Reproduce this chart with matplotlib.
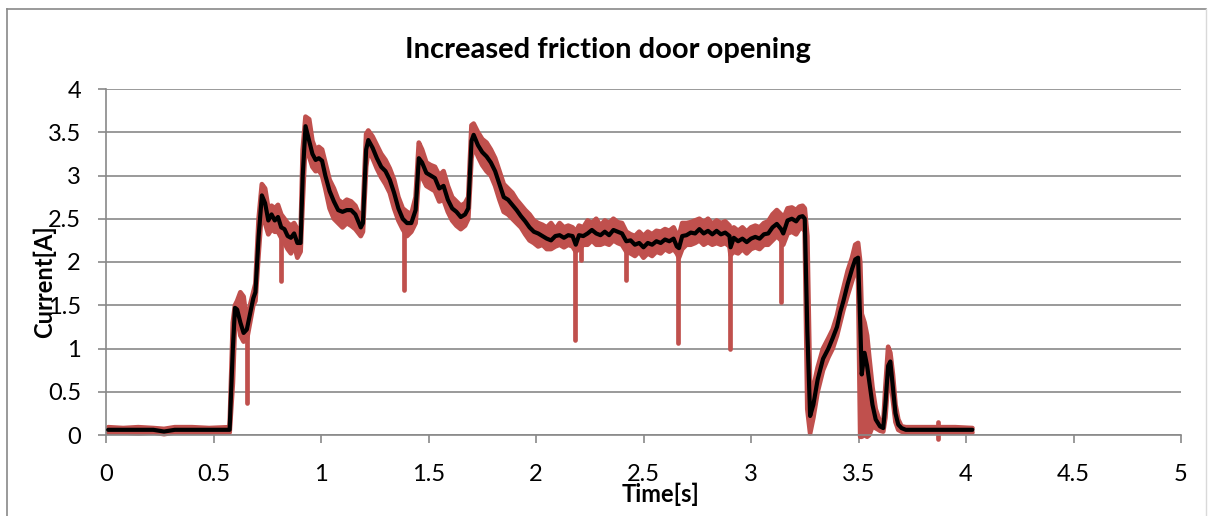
import matplotlib
matplotlib.use("Agg")
import matplotlib.pyplot as plt
from matplotlib.lines import Line2D
import numpy as np

# ---- measured motor current during an opening stroke --------------------
time_s = [
    0.01, 0.08, 0.15, 0.22, 0.27, 0.32, 0.40, 0.48, 0.57,
    0.575, 0.59, 0.60, 0.61, 0.625, 0.64, 0.655, 0.67, 0.685, 0.695,
    0.71, 0.725, 0.74, 0.755, 0.77, 0.785, 0.80, 0.815, 0.83, 0.845,
    0.86, 0.875, 0.89, 0.905, 0.915, 0.928, 0.945, 0.96, 0.975, 0.99,
    1.005, 1.02, 1.04, 1.06, 1.08, 1.10, 1.12, 1.14, 1.16, 1.185,
    1.195, 1.21, 1.22, 1.24, 1.26, 1.28, 1.30, 1.32, 1.34, 1.36,
    1.38, 1.40, 1.42, 1.44, 1.455, 1.47, 1.49, 1.51, 1.53, 1.55,
    1.57, 1.59, 1.61, 1.63, 1.65, 1.67, 1.685, 1.70, 1.71, 1.73,
    1.75, 1.77, 1.79, 1.81, 1.83, 1.85, 1.87, 1.89, 1.91, 1.93,
    1.95, 1.97, 1.99, 2.01, 2.03, 2.05, 2.07, 2.09, 2.11, 2.13,
    2.15, 2.17, 2.185, 2.20, 2.22, 2.24, 2.26, 2.28, 2.30, 2.32,
    2.34, 2.36, 2.38, 2.40, 2.42, 2.44, 2.46, 2.48, 2.50, 2.52,
    2.54, 2.56, 2.58, 2.60, 2.62, 2.64, 2.655, 2.665, 2.68, 2.70,
    2.72, 2.74, 2.76, 2.78, 2.80, 2.82, 2.84, 2.86, 2.88, 2.90,
    2.905, 2.92, 2.94, 2.96, 2.98, 3.00, 3.02, 3.04, 3.06, 3.08,
    3.10, 3.12, 3.14, 3.15, 3.17, 3.19, 3.21, 3.225, 3.24, 3.25,
    3.262, 3.275, 3.29, 3.31, 3.335, 3.36, 3.38, 3.40, 3.415, 3.43,
    3.45, 3.47, 3.485, 3.498, 3.508, 3.515, 3.528, 3.54, 3.55, 3.565,
    3.58, 3.60, 3.615, 3.625, 3.638, 3.648, 3.66, 3.672, 3.685, 3.70,
    3.72, 3.80, 3.87, 3.95, 4.03,
]

# filtered (moving average) current [A]
current_avg = [
    0.06, 0.06, 0.06, 0.06, 0.04, 0.06, 0.06, 0.06, 0.06,
    0.06, 1.00, 1.47, 1.45, 1.30, 1.18, 1.22, 1.40, 1.58, 1.65,
    2.30, 2.77, 2.68, 2.48, 2.55, 2.48, 2.52, 2.40, 2.38, 2.30,
    2.28, 2.33, 2.22, 2.22, 3.00, 3.57, 3.40, 3.25, 3.18, 3.20,
    3.17, 3.00, 2.82, 2.70, 2.60, 2.58, 2.60, 2.60, 2.55, 2.40,
    2.45, 3.30, 3.41, 3.32, 3.20, 3.10, 3.05, 2.95, 2.80, 2.62,
    2.50, 2.45, 2.45, 2.60, 3.20, 3.15, 3.03, 3.00, 2.97, 2.85,
    2.88, 2.72, 2.62, 2.58, 2.52, 2.55, 2.62, 3.40, 3.47, 3.35,
    3.27, 3.22, 3.15, 3.05, 2.90, 2.75, 2.72, 2.66, 2.60, 2.53,
    2.47, 2.40, 2.35, 2.33, 2.30, 2.27, 2.25, 2.30, 2.31, 2.28,
    2.31, 2.30, 2.20, 2.31, 2.30, 2.33, 2.37, 2.33, 2.31, 2.35,
    2.31, 2.37, 2.35, 2.33, 2.24, 2.25, 2.20, 2.22, 2.17, 2.22,
    2.20, 2.24, 2.22, 2.26, 2.24, 2.27, 2.18, 2.16, 2.30, 2.31,
    2.34, 2.33, 2.38, 2.33, 2.36, 2.32, 2.36, 2.32, 2.34, 2.30,
    2.17, 2.28, 2.24, 2.27, 2.23, 2.27, 2.29, 2.27, 2.32, 2.33,
    2.40, 2.44, 2.38, 2.33, 2.48, 2.50, 2.47, 2.52, 2.53, 2.50,
    1.20, 0.22, 0.35, 0.64, 0.88, 1.00, 1.12, 1.25, 1.42, 1.55,
    1.75, 1.92, 2.03, 2.05, 1.30, 0.70, 0.95, 0.80, 0.62, 0.35,
    0.18, 0.10, 0.08, 0.35, 0.80, 0.85, 0.55, 0.25, 0.12, 0.08,
    0.06, 0.06, 0.06, 0.06, 0.06,
]

# raw current, lower edge of the ripple [A]
current_lo = [
    0.03, 0.03, 0.02, 0.03, 0.01, 0.03, 0.03, 0.03, 0.03,
    0.03, 0.60, 1.30, 1.38, 1.15, 1.08, 1.10, 1.30, 1.50, 1.55,
    2.10, 2.62, 2.45, 2.32, 2.38, 2.35, 2.35, 2.28, 2.22, 2.15,
    2.10, 2.20, 2.05, 2.12, 2.70, 3.40, 3.22, 3.10, 3.05, 3.06,
    3.00, 2.85, 2.62, 2.50, 2.45, 2.40, 2.45, 2.42, 2.38, 2.30,
    2.35, 3.10, 3.30, 3.20, 3.08, 2.98, 2.90, 2.80, 2.62, 2.48,
    2.38, 2.30, 2.35, 2.45, 3.00, 2.98, 2.88, 2.85, 2.82, 2.70,
    2.72, 2.58, 2.48, 2.42, 2.38, 2.42, 2.50, 3.20, 3.35, 3.22,
    3.12, 3.05, 3.00, 2.88, 2.72, 2.58, 2.55, 2.50, 2.45, 2.40,
    2.32, 2.25, 2.22, 2.18, 2.20, 2.15, 2.15, 2.18, 2.20, 2.17,
    2.20, 2.18, 2.12, 2.15, 2.20, 2.20, 2.25, 2.20, 2.20, 2.22,
    2.20, 2.25, 2.22, 2.20, 2.12, 2.10, 2.07, 2.12, 2.05, 2.10,
    2.07, 2.12, 2.10, 2.15, 2.12, 2.15, 2.10, 2.05, 2.15, 2.20,
    2.20, 2.22, 2.25, 2.20, 2.23, 2.20, 2.22, 2.20, 2.22, 2.18,
    2.08, 2.12, 2.10, 2.15, 2.10, 2.15, 2.17, 2.15, 2.20, 2.20,
    2.25, 2.30, 2.25, 2.20, 2.33, 2.35, 2.32, 2.38, 2.40, 2.35,
    0.30, 0.02, 0.20, 0.50, 0.75, 0.90, 1.00, 1.15, 1.30, 1.45,
    1.62, 1.78, 1.90, 1.85, -0.02, -0.02, 0.00, -0.02, 0.00, 0.10,
    0.08, 0.05, 0.04, 0.20, 0.65, 0.70, 0.40, 0.15, 0.06, 0.04,
    0.03, 0.03, 0.03, 0.03, 0.03,
]

# raw current, upper edge of the ripple [A]
current_hi = [
    0.09, 0.08, 0.09, 0.08, 0.07, 0.09, 0.09, 0.08, 0.09,
    0.09, 1.30, 1.50, 1.55, 1.65, 1.60, 1.30, 1.50, 1.65, 1.75,
    2.50, 2.90, 2.85, 2.62, 2.65, 2.62, 2.66, 2.55, 2.50, 2.45,
    2.42, 2.45, 2.38, 2.30, 3.30, 3.68, 3.65, 3.40, 3.30, 3.33,
    3.30, 3.15, 2.95, 2.85, 2.72, 2.68, 2.72, 2.70, 2.65, 2.50,
    2.60, 3.48, 3.52, 3.45, 3.35, 3.25, 3.18, 3.08, 2.95, 2.75,
    2.62, 2.58, 2.55, 2.75, 3.38, 3.30, 3.15, 3.12, 3.10, 3.00,
    3.05, 2.88, 2.75, 2.70, 2.65, 2.68, 2.75, 3.58, 3.60, 3.50,
    3.42, 3.38, 3.30, 3.20, 3.05, 2.90, 2.85, 2.80, 2.72, 2.66,
    2.60, 2.55, 2.48, 2.45, 2.43, 2.40, 2.45, 2.38, 2.45, 2.40,
    2.42, 2.40, 2.35, 2.42, 2.40, 2.48, 2.45, 2.50, 2.42, 2.48,
    2.45, 2.50, 2.46, 2.45, 2.35, 2.32, 2.30, 2.35, 2.30, 2.35,
    2.32, 2.36, 2.35, 2.38, 2.36, 2.40, 2.32, 2.30, 2.45, 2.45,
    2.46, 2.48, 2.50, 2.46, 2.50, 2.44, 2.48, 2.45, 2.47, 2.42,
    2.30, 2.40, 2.36, 2.40, 2.35, 2.40, 2.42, 2.40, 2.45, 2.47,
    2.55, 2.60, 2.55, 2.50, 2.62, 2.63, 2.60, 2.64, 2.65, 2.62,
    2.30, 0.50, 0.55, 0.78, 1.00, 1.12, 1.22, 1.38, 1.55, 1.70,
    1.90, 2.05, 2.20, 2.22, 2.00, 1.40, 1.30, 1.15, 0.90, 0.55,
    0.30, 0.15, 0.12, 0.55, 1.02, 0.95, 0.70, 0.35, 0.18, 0.10,
    0.09, 0.09, 0.09, 0.09, 0.08,
]

# short drop-outs in the raw signal
spike_t = [0.655, 0.815, 1.385, 2.18, 2.21, 2.42, 2.66, 2.90, 3.14, 3.87]
spike_low = [0.37, 1.78, 1.68, 1.10, 2.02, 1.79, 1.06, 1.00, 1.54, -0.05]
spike_high = [1.30, 2.35, 2.45, 2.30, 2.30, 2.30, 2.20, 2.20, 2.45, 0.15]

x_ticks = [0, 0.5, 1, 1.5, 2, 2.5, 3, 3.5, 4, 4.5, 5]
y_ticks = [0, 0.5, 1, 1.5, 2, 2.5, 3, 3.5, 4]
x_tick_labels = ["0", "0.5", "1", "1.5", "2", "2.5", "3", "3.5", "4", "4.5", "5"]
y_tick_labels = ["0", "0.5", "1", "1.5", "2", "2.5", "3", "3.5", "4"]

title = "Increased friction door opening"
x_label = "Time[s]"
y_label = "Current[A]"

RAW_RED = "#C0504D"
GRID = "#898989"
FONT = ["Lato", "DejaVu Sans"]

W, H = 1209, 516
fig = plt.figure(figsize=(W / 100, H / 100), dpi=100)
plt.rcParams["font.family"] = FONT

# outer chart frame
fig.add_artist(Line2D([7 / W, 7 / W], [0, 1 - 9 / H], transform=fig.transFigure,
                      color=GRID, lw=1.2))
fig.add_artist(Line2D([7 / W, 1206 / W], [1 - 9 / H, 1 - 9 / H], transform=fig.transFigure,
                      color=GRID, lw=1.2))
fig.add_artist(Line2D([1206 / W, 1206 / W], [0, 1 - 9 / H], transform=fig.transFigure,
                      color="#d9d9d9", lw=1.0))

ax = fig.add_axes([106 / W, 81 / H, 1075 / W, 346 / H])
ax.set_xlim(0, 5)
ax.set_ylim(0, 4)

ax.set_yticks(y_ticks)
ax.set_yticklabels(y_tick_labels)
ax.set_xticks(x_ticks)
ax.set_xticklabels(x_tick_labels)
ax.yaxis.grid(True, color=GRID, lw=1.2)
ax.set_axisbelow(True)
for side in ("top", "right"):
    ax.spines[side].set_visible(False)
for side in ("left", "bottom"):
    ax.spines[side].set_color(GRID)
    ax.spines[side].set_linewidth(1.2)
ax.tick_params(axis="both", direction="out", length=6, width=1.2, color=GRID,
               labelsize=17)
ax.tick_params(axis="x", pad=15)
ax.tick_params(axis="y", pad=12)

# raw signal: ripple band plus drop-outs
t = np.array(time_s)
lo = np.array(current_lo)
hi = np.array(current_hi)
ax.fill_between(t, lo, hi, color=RAW_RED, lw=0, zorder=2, clip_on=False)
for edge in (lo, hi):
    ax.plot(t, edge, color=RAW_RED, lw=3.4, solid_capstyle="round",
            solid_joinstyle="round", zorder=2, clip_on=False)
ax.vlines(spike_t, spike_low, spike_high, color=RAW_RED, lw=3.4,
          capstyle="round", zorder=2, clip_on=False)

# filtered signal
ax.plot(time_s, current_avg, color="black", lw=3.0, solid_joinstyle="round",
        solid_capstyle="round", zorder=3, clip_on=False)

fig.text(608 / W, 1 - 58 / H, title, ha="center", va="baseline",
         fontsize=21, fontweight="bold")
fig.text(661 / W, 1 - 494 / H, x_label, ha="center", va="center",
         fontsize=17, fontweight="bold")
fig.text(44 / W, 1 - 282 / H, y_label, ha="center", va="center", rotation=90,
         fontsize=17, fontweight="bold")

fig.savefig("out.png", dpi=100)
